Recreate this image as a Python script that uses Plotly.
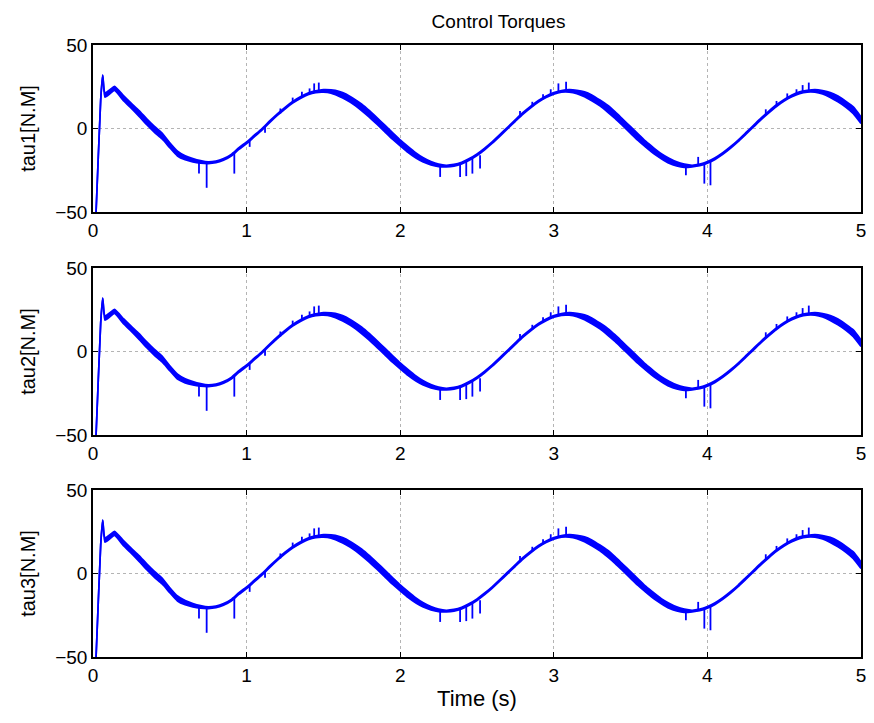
import plotly.graph_objects as go
from plotly.subplots import make_subplots

# ---- data (all three panels look identical) ----
time_s = [0.0, 0.02, 0.05, 0.063, 0.078, 0.11, 0.14, 0.20, 0.25, 0.30, 0.35, 0.40,
          0.45, 0.50, 0.55, 0.60, 0.65, 0.70, 0.75, 0.80, 0.85, 0.90, 0.95, 1.00,
          1.05, 1.10, 1.15, 1.20, 1.25, 1.30, 1.35, 1.40, 1.45, 1.50, 1.55, 1.60,
          1.65, 1.70, 1.75, 1.80, 1.85, 1.90, 1.95, 2.00, 2.05, 2.10, 2.15, 2.20,
          2.25, 2.30, 2.35, 2.40, 2.45, 2.50, 2.55, 2.60, 2.65, 2.70, 2.75, 2.80,
          2.85, 2.90, 2.95, 3.00, 3.05, 3.10, 3.15, 3.20, 3.25, 3.30, 3.35, 3.40,
          3.45, 3.50, 3.55, 3.60, 3.65, 3.70, 3.75, 3.80, 3.85, 3.90, 3.95, 4.00,
          4.05, 4.10, 4.15, 4.20, 4.25, 4.30, 4.35, 4.40, 4.45, 4.50, 4.55, 4.60,
          4.65, 4.70, 4.75, 4.80, 4.85, 4.90, 4.95, 5.00]

tau_center = [-90, -50, 17, 32, 20, 22, 24, 18, 13.5, 9, 4, -0.5,
              -4.5, -10, -15, -17.5, -19, -20, -20.5, -20, -18.5, -16, -12, -8.5,
              -4.5, -0.5, 4.0, 8.3, 12.2, 15.7, 18.5, 20.7, 22.0, 22.5, 22.1, 20.8,
              18.8, 16.0, 12.6, 8.7, 4.4, 0.0, -4.4, -8.6, -12.5, -16.0, -18.8, -20.8,
              -22.1, -22.5, -22.0, -20.7, -18.5, -15.7, -12.2, -8.3, -4.0, 0.4, 4.8, 9.1,
              12.9, 16.3, 19.0, 21.0, 22.2, 22.5, 21.9, 20.5, 18.2, 15.3, 11.9, 7.9,
              3.5, -0.9, -5.3, -9.5, -13.3, -16.6, -19.3, -21.2, -22.3, -22.5, -21.8, -20.3,
              -18.0, -15.0, -11.4, -7.4, -3.0, 1.4, 5.8, 9.9, 13.7, 16.9, 19.5, 21.4,
              22.3, 22.5, 21.7, 20.1, 17.7, 14.6, 10.9, 5.0]

# peak-to-peak width of the chattering band around the centre line
tau_ripple = [0, 0, 0, 0, 2.5, 2.5, 2.5, 3, 3, 3.5, 3.5, 3.5,
              3.5, 3, 3, 2.5, 2, 1.5, 1, 1, 1, 1, 1, 1,
              1, 1, 1, 1, 1, 1, 1, 1, 1, 1.5, 2, 3,
              3.5, 3.5, 4, 4, 4, 4, 4, 3.5, 3.5, 3, 2.5, 2,
              1.5, 1, 1, 1, 1, 1, 1, 1, 1, 1, 1, 1,
              1, 1, 1, 1, 1, 1.5, 2, 3, 3.5, 3.5, 4, 4,
              4, 4, 4, 3.5, 3.5, 3, 3, 2.5, 2, 1, 1, 1,
              1, 1, 1, 1, 1, 1, 1, 1, 1, 1, 1, 1,
              1, 1.5, 2, 3, 3.5, 3.5, 4, 4]

# short spikes: time, value at the base, value at the tip
spike_t = [0.69, 0.74, 0.92, 1.02, 1.12, 1.22, 1.30, 1.36, 1.41, 1.44, 1.47,
           2.26, 2.39, 2.43, 2.47, 2.52, 2.78, 2.86, 2.93, 2.98, 3.03, 3.08,
           3.86, 3.94, 3.98, 4.02, 4.38, 4.45, 4.52, 4.58, 4.62, 4.66]
spike_base = [-20, -20, -15, -7.5, 1.5, 9, 15.5, 19, 21, 22, 22.3,
              -22, -21, -19.5, -18, -16, 7.5, 13, 17.5, 20.5, 21.8, 22.4,
              -22.3, -21.8, -21, -19.5, 8.5, 13.7, 18, 20.5, 21.8, 22.3]
spike_tip = [-27, -35.5, -27, -11, -2.5, 12, 18.5, 22, 24, 27, 27.5,
             -29, -29, -28.5, -27, -24, 10.5, 16, 20.5, 23.5, 27, 28,
             -28, -17, -33, -34, 11.5, 16.5, 21, 23.5, 26, 27.5]

panel_labels = ["tau1[N.M]", "tau2[N.M]", "tau3[N.M]"]
x_ticks = [0, 1, 2, 3, 4, 5]
y_ticks = [-50, 0, 50]

# ---- build figure ----
blue = "rgb(0,0,255)"
font_family = "Liberation Sans, Arial, sans-serif"
upper = [c + r / 2 for c, r in zip(tau_center, tau_ripple)]
lower = [c - r / 2 for c, r in zip(tau_center, tau_ripple)]
sx, sy = [], []
for t, b, tip in zip(spike_t, spike_base, spike_tip):
    sx += [t, t, None]
    sy += [b, tip, None]

fig = make_subplots(rows=3, cols=1, shared_xaxes=False, vertical_spacing=0.09)
domains = [[0.7271, 1.0], [0.3627, 0.6356], [0.0, 0.2729]]
for i in range(3):
    row = i + 1
    fig.add_trace(go.Scatter(x=time_s, y=upper, mode="lines",
                             line=dict(color=blue, width=1.7, shape="spline", smoothing=0.5),
                             showlegend=False, hoverinfo="skip"), row=row, col=1)
    fig.add_trace(go.Scatter(x=time_s, y=lower, mode="lines",
                             line=dict(color=blue, width=1.7, shape="spline", smoothing=0.5),
                             fill="tonexty", fillcolor=blue, showlegend=False, hoverinfo="skip"),
                  row=row, col=1)
    fig.add_trace(go.Scatter(x=sx, y=sy, mode="lines", line=dict(color=blue, width=1.8),
                             showlegend=False, hoverinfo="skip"), row=row, col=1)
    axis_common = dict(showline=True, linecolor="black", linewidth=1.5, mirror="ticks",
                       ticks="inside", ticklen=5, tickcolor="black",
                       showgrid=True, gridcolor="#b4b4b4", griddash="dot", gridwidth=1,
                       zeroline=False,
                       tickfont=dict(family=font_family, size=19, color="black"))
    fig.update_xaxes(range=[0, 5], tickvals=x_ticks, **axis_common, row=row, col=1)
    fig.update_yaxes(range=[-50, 50], tickvals=y_ticks, domain=domains[i],
                     title=dict(text=panel_labels[i], standoff=14,
                                font=dict(family=font_family, size=20, color="black")),
                     **axis_common, row=row, col=1)

fig.update_xaxes(title=dict(text="Time (s)", standoff=6,
                            font=dict(family=font_family, size=22, color="black")),
                 row=3, col=1)

fig.update_layout(
    width=866, height=715,
    margin=dict(l=85, r=8, t=37, b=66),
    paper_bgcolor="white", plot_bgcolor="white",
    title=dict(text="Control Torques", xref="paper", x=0.528, xanchor="center",
               y=0.982, yanchor="middle",
               font=dict(family=font_family, size=19, color="black")),
)

fig.write_html("out.html")
